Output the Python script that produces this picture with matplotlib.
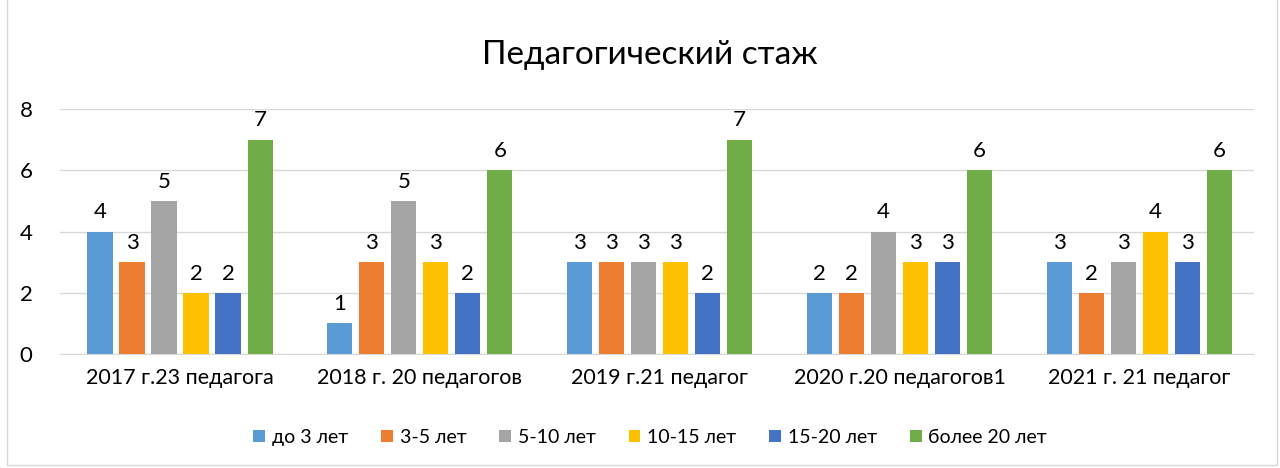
import numpy as np
import matplotlib.pyplot as plt
from matplotlib.patches import Rectangle

plt.rcParams['font.family'] = ['Lato', 'DejaVu Sans']

# Data
groups = ['2017 г.23 педагога', '2018 г. 20 педагогов', '2019 г.21 педагог',
          '2020 г.20 педагогов1', '2021 г. 21 педагог']
series_names = ['до 3 лет', '3-5 лет', '5-10 лет', '10-15 лет', '15-20 лет', 'более 20 лет']
do3 = [4, 1, 3, 2, 3]
s3_5 = [3, 3, 3, 2, 2]
s5_10 = [5, 5, 3, 4, 3]
s10_15 = [2, 3, 3, 3, 4]
s15_20 = [2, 2, 2, 3, 3]
bolee20 = [7, 6, 7, 6, 6]
colors = ['#5B9BD5', '#ED7D31', '#A5A5A5', '#FFC000', '#4472C4', '#70AD47']

all_series = [do3, s3_5, s5_10, s10_15, s15_20, bolee20]

fig = plt.figure(figsize=(12.8, 4.68), dpi=100)
ax = fig.add_axes([0.047, 0.2436, 0.933, 0.5234])

x = np.arange(len(groups))
pitch = 0.1335
width = 0.105
for i, (vals, name, c) in enumerate(zip(all_series, series_names, colors)):
    pos = x + (i - 2.5) * pitch
    bars = ax.bar(pos, vals, width=width, color=c, label=name, zorder=3)
    for b, v in zip(bars, vals):
        ax.text(b.get_x() + b.get_width() / 2, v + 0.3, str(v), ha='center', va='bottom',
                fontsize=16, color='#000000')

ax.set_ylim(0, 8)
ax.set_xlim(-0.5, 4.48)
ax.set_yticks([0, 2, 4, 6, 8])
ax.yaxis.grid(True, color='#D9D9D9', linewidth=1, zorder=0)
ax.set_xticks(x)
ax.set_xticklabels(groups, fontsize=15.5)
ax.tick_params(axis='y', labelsize=16, length=0, pad=20)
ax.tick_params(axis='x', length=0, pad=10)
for s in ['top', 'right', 'left']:
    ax.spines[s].set_visible(False)
ax.spines['bottom'].set_color('#D9D9D9')

fig.text(0.508, 0.882, 'Педагогический стаж', ha='center', va='center', fontsize=24)

fig.legend(loc='center', bbox_to_anchor=(0.508, 0.066), ncol=6, frameon=False,
           fontsize=14, handlelength=0.6, handleheight=0.6, handletextpad=0.35,
           columnspacing=1.7)

fig.patches.append(Rectangle((0.0055, 0.006), 0.992, 1.1, transform=fig.transFigure,
                             fill=False, edgecolor='#D9D9D9', linewidth=1))

fig.savefig('out.png', dpi=100)
